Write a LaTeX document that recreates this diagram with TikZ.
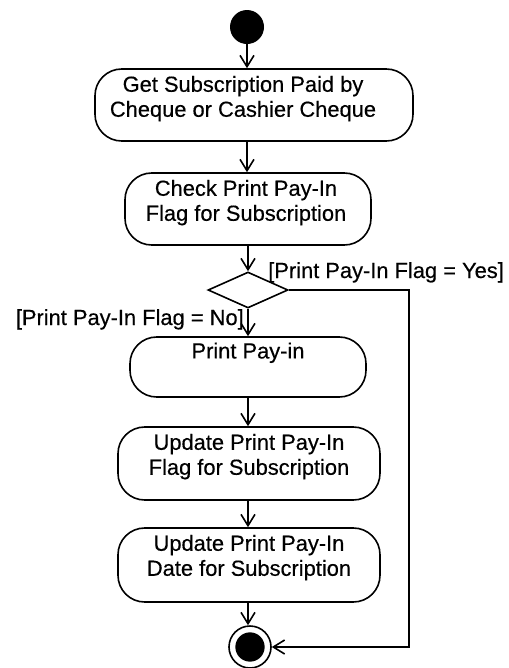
\documentclass[tikz,border=0pt]{standalone}
\usepackage{fontspec}
\setmainfont{Liberation Sans}[FakeBold=0.4]
\usetikzlibrary{arrows.meta,shapes.geometric}
\begin{document}
\begin{tikzpicture}[x=0.75pt,y=-0.75pt,
  actbox/.style={draw, line width=1.2pt, rounded corners=20pt, inner sep=0pt},
  txt/.style={inner sep=0pt, align=center, font=\fontsize{16.4pt}{18.75pt}\selectfont},
  flow/.style={line width=1.2pt, -{Straight Barb[length=8.5pt,width=10.5pt,line width=1.2pt]}},
  decision/.style={draw, diamond, line width=1.2pt, inner sep=0pt, minimum width=60pt, minimum height=27pt},
  startdot/.style={circle, fill=black, inner sep=0pt, minimum size=25.5pt},
  endring/.style={circle, draw, line width=1.2pt, inner sep=0pt, minimum size=31.5pt}]
\useasboundingbox (0,0) rectangle (508,668);

\node[startdot] (start) at (247,27) {};
\node[actbox, minimum width=238.5pt, minimum height=54pt] (a1) at (254,105) {};
\node[txt, anchor=north] (t1) at ([yshift=-5pt]243,69) {Get Subscription Paid by\\Cheque or Cashier Cheque};
\node[actbox, minimum width=184.5pt, minimum height=54pt] (a2) at (248,209) {};
\node[txt, anchor=north] (t2) at ([yshift=-5pt]246,173) {Check Print Pay-In\\Flag for Subscription};
\node[decision] (dec) at (248,290) {};
\node[actbox, minimum width=177pt, minimum height=45pt] (a3) at (248,367) {};
\node[txt, anchor=north] (t3) at ([yshift=-4pt]248,337) {Print Pay-in};
\node[actbox, minimum width=196.5pt, minimum height=54.75pt] (a4) at (249,463.5) {};
\node[txt, anchor=north] (t4) at ([yshift=-5pt]249,427) {Update Print Pay-In\\Flag for Subscription};
\node[actbox, minimum width=196.5pt, minimum height=55.5pt] (a5) at (249,565) {};
\node[txt, anchor=north] (t5) at ([yshift=-5pt]249,528) {Update Print Pay-In\\Date for Subscription};
\node[endring] (end) at (250,647) {};
\fill (end.center) circle (11pt);

\node[txt, anchor=base west] (yes) at (268,278) {[Print Pay-In Flag = Yes]};
\node[txt, anchor=base east] (no) at (244,325) {[Print Pay-In Flag = No]};

\draw[flow] (start) -- (start |- a1.north);
\draw[flow] (a1.south -| start) -- (a2.north -| start);
\draw[flow] (a2.south -| dec) -- (dec.north);
\draw[flow] (dec.south) -- (a3.north -| dec);
\draw[flow] (a3.south -| dec) -- (a4.north -| dec);
\draw[flow] (a4.south -| dec) -- (a5.north -| dec);
\draw[flow] (a5.south -| dec) -- (end.north -| dec);
\draw[flow] (dec.east) -- ++(120,0) |- (end.east);
\end{tikzpicture}
\end{document}
